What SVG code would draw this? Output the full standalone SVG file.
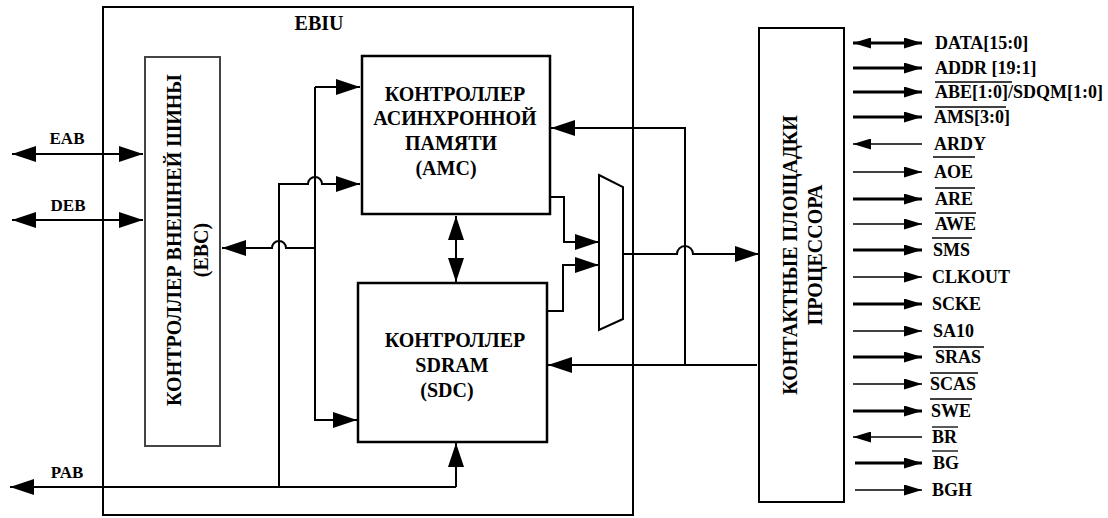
<svg xmlns="http://www.w3.org/2000/svg" width="1108" height="518" viewBox="0 0 1108 518" font-family="'Liberation Serif', 'Times New Roman', serif">
<style>
text{font-family:'Liberation Serif','Times New Roman',serif;font-weight:700;fill:#000}
.box{fill:#fff;stroke:#000;stroke-width:2.5}
.frame{fill:none;stroke:#000;stroke-width:2}
.ebc{fill:#fff;stroke:#444;stroke-width:2}
.c{fill:none;stroke:#000;stroke-width:2}
.thick{fill:none;stroke:#000;stroke-width:3}
.thin{fill:none;stroke:#000;stroke-width:1.3}
.ov{stroke:#000;stroke-width:1.3}
.big{font-size:20px}
.sig{font-size:18px}
.lab{font-size:17px}
</style>
<defs>
<marker id="ah" markerUnits="userSpaceOnUse" markerWidth="24" markerHeight="16" viewBox="0 0 24 16" refX="24" refY="8" orient="auto-start-reverse"><path d="M0,0 L24,8 L0,16 Z" fill="#000"/></marker>
<marker id="as" markerUnits="userSpaceOnUse" markerWidth="18" markerHeight="11" viewBox="0 0 18 11" refX="18" refY="5.5" orient="auto-start-reverse"><path d="M0,0 L18,5.5 L0,11 Z" fill="#000"/></marker>
</defs>

<g id="ebiu">
<rect class="frame" x="103" y="7" width="530" height="508"/>
<text class="big" x="319" y="30" text-anchor="middle" font-family="Liberation Serif">EBIU</text>
</g>

<g id="ebc">
<rect class="ebc" x="145" y="57" width="75" height="389"/>
<text class="big" transform="translate(181,240) rotate(-90)" text-anchor="middle">КОНТРОЛЛЕР ВНЕШНЕЙ ШИНЫ</text>
<text class="big" transform="translate(208,250) rotate(-90)" text-anchor="middle">(EBC)</text>
</g>

<g id="amc">
<rect class="box" x="362" y="56" width="188" height="158"/>
<text class="big" x="455" y="101" text-anchor="middle">КОНТРОЛЛЕР</text>
<text class="big" x="455" y="125" text-anchor="middle">АСИНХРОННОЙ</text>
<text class="big" x="451" y="150" text-anchor="middle">ПАМЯТИ</text>
<text class="big" x="446" y="175" text-anchor="middle">(AMC)</text>
</g>

<g id="sdc">
<rect class="box" x="358" y="283" width="189" height="159"/>
<text class="big" x="455" y="347" text-anchor="middle">КОНТРОЛЛЕР</text>
<text class="big" x="452" y="372" text-anchor="middle">SDRAM</text>
<text class="big" x="447" y="397" text-anchor="middle">(SDC)</text>
</g>

<g id="mux">
<polygon class="c" points="599,175 623,187 623,319 599,330"/>
</g>

<g id="pads">
<rect class="frame" x="759" y="28" width="85" height="474"/>
<text class="big" transform="translate(797,255) rotate(-90)" text-anchor="middle">КОНТАКТНЫЕ ПЛОЩАДКИ</text>
<text class="big" transform="translate(822,255) rotate(-90)" text-anchor="middle">ПРОЦЕССОРА</text>
</g>

<g id="connectors">
<path class="c" d="M12,154 H143" marker-start="url(#ah)" marker-end="url(#ah)"/>
<path class="c" d="M12,220 H143" marker-start="url(#ah)" marker-end="url(#ah)"/>
<path class="c" d="M456,487 H10" marker-end="url(#ah)"/>
<path class="c" d="M456,487 V443" marker-end="url(#ah)"/>
<path class="c" d="M279,487 V184 H308 a7,7 0 0 1 14,0 H360" marker-end="url(#ah)"/>
<path class="c" d="M315,87 H360" marker-end="url(#ah)"/>
<path class="c" d="M315,87 V420 H357" marker-end="url(#ah)"/>
<path class="c" d="M315,248 H286 a7,7 0 0 0 -14,0 H222" marker-end="url(#ah)"/>
<path class="c" d="M456,216 V282" marker-start="url(#ah)" marker-end="url(#ah)"/>
<path class="c" d="M550,197 H564 V242 H599" marker-end="url(#ah)"/>
<path class="c" d="M547,311 H563 V265 H599" marker-end="url(#ah)"/>
<path class="c" d="M623,254 H677 a8,8 0 0 1 16,0 H759" marker-end="url(#ah)"/>
<path class="c" d="M757,365 H685 V128 H551" marker-end="url(#ah)"/>
<path class="c" d="M685,365 H548" marker-end="url(#ah)"/>

<path class="thick" d="M853,43 H922" marker-start="url(#as)" marker-end="url(#as)"/>
<path class="thick" d="M853,68 H922" marker-end="url(#as)"/>
<path class="thick" d="M853,92 H922" marker-end="url(#as)"/>
<path class="thick" d="M853,117 H922" marker-end="url(#as)"/>
<path class="thin" d="M922,144 H853" marker-end="url(#as)"/>
<path class="thin" d="M853,172 H922" marker-end="url(#as)"/>
<path class="thick" d="M853,199 H922" marker-end="url(#as)"/>
<path class="thin" d="M853,224 H922" marker-end="url(#as)"/>
<path class="thick" d="M853,250 H922" marker-end="url(#as)"/>
<path class="thin" d="M853,277 H922" marker-end="url(#as)"/>
<path class="thick" d="M853,304 H922" marker-end="url(#as)"/>
<path class="thin" d="M853,331 H922" marker-end="url(#as)"/>
<path class="thick" d="M853,357 H922" marker-end="url(#as)"/>
<path class="thin" d="M853,384 H922" marker-end="url(#as)"/>
<path class="thick" d="M853,411 H922" marker-end="url(#as)"/>
<path class="thin" d="M922,437 H853" marker-end="url(#as)"/>
<path class="thick" d="M855,463 H922" marker-end="url(#as)"/>
<path class="thin" d="M855,490 H922" marker-end="url(#as)"/>
</g>

<g id="labels">
<text class="lab" x="67" y="144" text-anchor="middle">EAB</text>
<text class="lab" x="68" y="211" text-anchor="middle">DEB</text>
<text class="lab" x="67" y="478" text-anchor="middle">PAB</text>

<text class="sig" x="935" y="49">DATA[15:0]</text>
<text class="sig" x="935" y="74">ADDR [19:1]</text>
<text class="sig" x="935" y="98">ABE[1:0]/SDQM[1:0]</text>
<text class="sig" x="934" y="123">AMS[3:0]</text>
<text class="sig" x="934" y="150">ARDY</text>
<text class="sig" x="934" y="178">AOE</text>
<text class="sig" x="935" y="205">ARE</text>
<text class="sig" x="935" y="230">AWE</text>
<text class="sig" x="933" y="256">SMS</text>
<text class="sig" x="932" y="283">CLKOUT</text>
<text class="sig" x="932" y="310">SCKE</text>
<text class="sig" x="933" y="337">SA10</text>
<text class="sig" x="935" y="363">SRAS</text>
<text class="sig" x="930" y="390">SCAS</text>
<text class="sig" x="931" y="417">SWE</text>
<text class="sig" x="932" y="443">BR</text>
<text class="sig" x="933" y="469">BG</text>
<text class="sig" x="932" y="496">BGH</text>

<line class="ov" x1="935" y1="82" x2="1012" y2="82"/>
<line class="ov" x1="935" y1="107" x2="1006" y2="107"/>
<line class="ov" x1="933" y1="157" x2="975" y2="157"/>
<line class="ov" x1="935" y1="188" x2="975" y2="188"/>
<line class="ov" x1="935" y1="213" x2="976" y2="213"/>
<line class="ov" x1="932" y1="238" x2="972" y2="238"/>
<line class="ov" x1="933" y1="347" x2="984" y2="347"/>
<line class="ov" x1="930" y1="373" x2="978" y2="373"/>
<line class="ov" x1="930" y1="399" x2="972" y2="399"/>
<line class="ov" x1="932" y1="427" x2="958" y2="427"/>
<line class="ov" x1="932" y1="451" x2="958" y2="451"/>
</g>
</svg>
